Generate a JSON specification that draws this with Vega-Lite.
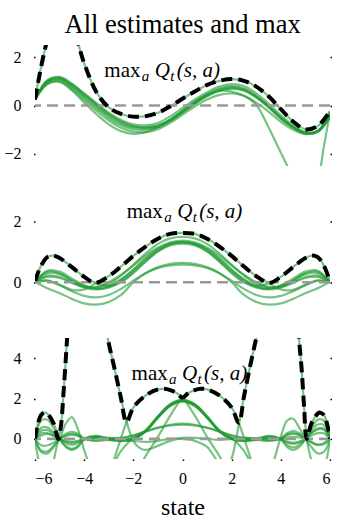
{
"$schema": "https://vega.github.io/schema/vega-lite/v6.json",
"padding": {"left": 1, "top": 12, "right": 5, "bottom": 5},
"title": {"text": "All estimates and max", "font": "Liberation Serif, serif", "fontSize": 26.5, "fontWeight": "normal", "color": "black", "anchor": "middle", "offset": 6.5, "dx": 16},
"spacing": 25.5,
"datasets": {
"p1": [
{"s":-6,"g1":0.25,"g2":0.25,"g3":0.25,"g4":0.25,"g5":0.25,"g6":0.25,"g7":0.25,"g8":0.25},
{"s":-5.75,"g1":1.6},
{"s":-5.5,"g1":2.7,"g2":0.88,"g3":1.05,"g4":0.98,"g5":0.95,"g6":1.02,"g7":0.9,"g8":1.0},
{"s":-5,"g1":4.2,"g2":0.97,"g3":1.18,"g4":1.1,"g5":1.05,"g6":1.15,"g7":1.0,"g8":1.12},
{"s":-4.5,"g1":3.6,"g2":0.62,"g3":0.9,"g4":0.8,"g5":0.74,"g6":0.88,"g7":0.68,"g8":0.83},
{"s":-4.25,"g1":2.6},
{"s":-4,"g1":1.75,"g2":0.12,"g3":0.5,"g4":0.38,"g5":0.3,"g6":0.48,"g7":0.22,"g8":0.42},
{"s":-3.5,"g1":0.55,"g2":-0.36,"g3":0.1,"g4":-0.05,"g5":-0.12,"g6":0.06,"g7":-0.22,"g8":0.02},
{"s":-3,"g1":-0.08,"g2":-0.78,"g3":-0.3,"g4":-0.45,"g5":-0.52,"g6":-0.35,"g7":-0.62,"g8":-0.38},
{"s":-2.5,"g1":-0.35,"g2":-1.06,"g3":-0.6,"g4":-0.75,"g5":-0.82,"g6":-0.66,"g7":-0.92,"g8":-0.68},
{"s":-2,"g1":-0.46,"g2":-1.17,"g3":-0.78,"g4":-0.92,"g5":-0.98,"g6":-0.85,"g7":-1.08,"g8":-0.86},
{"s":-1.5,"g1":-0.44,"g2":-1.1,"g3":-0.82,"g4":-0.95,"g5":-1.0,"g6":-0.9,"g7":-1.1,"g8":-0.9},
{"s":-1,"g1":-0.3,"g2":-0.9,"g3":-0.72,"g4":-0.88,"g5":-0.9,"g6":-0.82,"g7":-0.98,"g8":-0.83},
{"s":-0.5,"g1":-0.04,"g2":-0.58,"g3":-0.45,"g4":-0.63,"g5":-0.64,"g6":-0.58,"g7":-0.72,"g8":-0.6},
{"s":0,"g1":0.28,"g2":-0.2,"g3":-0.1,"g4":-0.28,"g5":-0.28,"g6":-0.22,"g7":-0.38,"g8":-0.26},
{"s":0.5,"g1":0.58,"g2":0.17,"g3":0.25,"g4":0.08,"g5":0.07,"g6":0.14,"g7":-0.04,"g8":0.1},
{"s":1,"g1":0.85,"g2":0.45,"g3":0.55,"g4":0.4,"g5":0.38,"g6":0.47,"g7":0.25,"g8":0.43},
{"s":1.5,"g1":1.02,"g2":0.6,"g3":0.78,"g4":0.63,"g5":0.6,"g6":0.7,"g7":0.44,"g8":0.66},
{"s":2,"g1":1.09,"g2":0.58,"g3":0.88,"g4":0.72,"g5":0.7,"g6":0.8,"g7":0.5,"g8":0.76},
{"s":2.5,"g1":1.02,"g2":0.4,"g3":0.8,"g4":0.62,"g5":0.62,"g6":0.7,"g7":0.4,"g8":0.67},
{"s":3,"g1":0.78,"g2":0.02,"g3":0.5,"g4":0.33,"g5":0.35,"g6":0.4,"g7":0.12,"g8":0.38},
{"s":3.5,"g1":0.38,"g2":-0.9,"g3":0.08,"g4":-0.08,"g5":-0.05,"g6":-0.02,"g7":-0.25,"g8":-0.03},
{"s":4,"g1":-0.15,"g2":-1.95,"g3":-0.4,"g4":-0.55,"g5":-0.52,"g6":-0.5,"g7":-0.68,"g8":-0.5},
{"s":4.5,"g1":-0.66,"g2":-2.9,"g3":-0.82,"g4":-0.92,"g5":-0.9,"g6":-0.88,"g7":-1.0,"g8":-0.88},
{"s":5,"g1":-0.98,"g2":-3.4,"g3":-1.1,"g4":-1.16,"g5":-1.15,"g6":-1.13,"g7":-1.18,"g8":-1.12},
{"s":5.5,"g1":-0.85,"g2":-2.9,"g3":-1.05,"g4":-1.08,"g5":-1.1,"g6":-1.05,"g7":-1.08,"g8":-1.06},
{"s":5.75,"g2":-1.7},
{"s":6,"g1":-0.23,"g2":-0.25,"g3":-0.3,"g4":-0.38,"g5":-0.45,"g6":-0.35,"g7":-0.5,"g8":-0.4}
],
"p2": [
{"s":-6,"u1":0.05,"u2":0,"u3":0,"u4":0,"b1":0,"b2":0,"b3":0,"l1":0.02,"l2":0,"mx":0.05},
{"s":-5.75,"u1":0.55,"mx":0.55},
{"s":-5.5,"u1":0.83,"u2":0.06,"u3":0.18,"u4":0.35,"b1":0.3,"b2":0.38,"b3":0.22,"l1":-0.2,"l2":0.05,"mx":0.83},
{"s":-5.25,"u1":0.88,"mx":0.88},
{"s":-5,"u1":0.8,"u2":-0.08,"u3":0.14,"u4":0.3,"b1":0.27,"b2":0.35,"b3":0.18,"l1":-0.36,"l2":-0.1,"mx":0.8},
{"s":-4.5,"u1":0.5,"u2":-0.25,"u3":-0.02,"u4":0.05,"b1":0.07,"b2":0.12,"b3":0,"l1":-0.55,"l2":-0.3,"mx":0.5},
{"s":-4,"u1":0.18,"u2":-0.24,"u3":-0.18,"u4":-0.15,"b1":-0.12,"b2":-0.1,"b3":-0.15,"l1":-0.7,"l2":-0.45,"mx":0.18},
{"s":-3.55,"mx":-0.02},
{"s":-3.5,"u1":-0.03,"u2":-0.02,"u3":-0.24,"u4":-0.18,"b1":-0.2,"b2":-0.22,"b3":-0.15,"l1":-0.74,"l2":-0.5},
{"s":-3,"u1":-0.12,"u2":0.2,"u3":-0.15,"u4":-0.05,"b1":-0.12,"b2":-0.18,"b3":0,"l1":-0.65,"l2":-0.42,"mx":0.2},
{"s":-2.5,"u1":0,"u2":0.52,"u3":0.08,"u4":0.22,"b1":0.1,"b2":0.02,"b3":0.25,"l1":-0.42,"l2":-0.22,"mx":0.52},
{"s":-2,"u1":0.3,"u2":0.87,"u3":0.4,"u4":0.58,"b1":0.42,"b2":0.33,"b3":0.55,"l1":0,"l2":0.05,"mx":0.87},
{"s":-1.5,"u1":0.68,"u2":1.18,"u3":0.76,"u4":0.95,"b1":0.8,"b2":0.7,"b3":0.88,"l1":0.3,"l2":0.3,"mx":1.18},
{"s":-1,"u1":1.02,"u2":1.44,"u3":1.08,"u4":1.27,"b1":1.1,"b2":1.02,"b3":1.15,"l1":0.5,"l2":0.47,"mx":1.44},
{"s":-0.5,"u1":1.25,"u2":1.6,"u3":1.27,"u4":1.45,"b1":1.28,"b2":1.22,"b3":1.32,"l1":0.61,"l2":0.56,"mx":1.6},
{"s":0,"u1":1.32,"u2":1.63,"u3":1.32,"u4":1.5,"b1":1.34,"b2":1.28,"b3":1.38,"l1":0.64,"l2":0.58,"mx":1.63},
{"s":0.5,"u1":1.27,"u2":1.6,"u3":1.25,"u4":1.45,"b1":1.28,"b2":1.22,"b3":1.32,"l1":0.61,"l2":0.56,"mx":1.6},
{"s":1,"u1":1.08,"u2":1.44,"u3":1.02,"u4":1.27,"b1":1.1,"b2":1.02,"b3":1.15,"l1":0.5,"l2":0.47,"mx":1.44},
{"s":1.5,"u1":0.76,"u2":1.18,"u3":0.68,"u4":0.95,"b1":0.8,"b2":0.7,"b3":0.88,"l1":0.3,"l2":0.3,"mx":1.18},
{"s":2,"u1":0.4,"u2":0.87,"u3":0.3,"u4":0.58,"b1":0.42,"b2":0.33,"b3":0.55,"l1":0,"l2":0.05,"mx":0.87},
{"s":2.5,"u1":0.08,"u2":0.52,"u3":0,"u4":0.22,"b1":0.1,"b2":0.02,"b3":0.25,"l1":-0.42,"l2":-0.22,"mx":0.52},
{"s":3,"u1":-0.15,"u2":0.2,"u3":-0.12,"u4":-0.05,"b1":-0.12,"b2":-0.18,"b3":0,"l1":-0.65,"l2":-0.42,"mx":0.2},
{"s":3.5,"u1":-0.24,"u2":-0.02,"u3":-0.03,"u4":-0.18,"b1":-0.2,"b2":-0.22,"b3":-0.15,"l1":-0.74,"l2":-0.5},
{"s":3.55,"mx":-0.02},
{"s":4,"u1":-0.18,"u2":-0.24,"u3":0.18,"u4":-0.15,"b1":-0.12,"b2":-0.1,"b3":-0.15,"l1":-0.7,"l2":-0.45,"mx":0.18},
{"s":4.5,"u1":-0.02,"u2":-0.25,"u3":0.5,"u4":0.05,"b1":0.07,"b2":0.12,"b3":0,"l1":-0.55,"l2":-0.3,"mx":0.5},
{"s":5,"u1":0.14,"u2":-0.08,"u3":0.8,"u4":0.3,"b1":0.27,"b2":0.35,"b3":0.18,"l1":-0.36,"l2":-0.1,"mx":0.8},
{"s":5.25,"u3":0.88,"mx":0.88},
{"s":5.5,"u1":0.18,"u2":0.06,"u3":0.83,"u4":0.35,"b1":0.3,"b2":0.38,"b3":0.22,"l1":-0.2,"l2":0.05,"mx":0.83},
{"s":5.75,"u3":0.55,"mx":0.55},
{"s":6,"u1":0,"u2":0,"u3":0.03,"u4":0,"b1":0,"b2":0,"b3":0,"l1":0.02,"l2":0,"mx":0.03}
],
"p3": [
{"a":"c1","s":-6,"q":0},{"a":"c1","s":-5.9,"q":-0.8},{"a":"c1","s":-5.75,"q":-1.5},{"a":"c1","s":-5.5,"q":-1.8},{"a":"c1","s":-5.25,"q":-1.1},{"a":"c1","s":-5.15,"q":-0.55},{"a":"c1","s":-5.05,"q":0},{"a":"c1","s":-4.95,"q":0.6},{"a":"c1","s":-4.9,"q":1.2},{"a":"c1","s":-4.85,"q":2.1},{"a":"c1","s":-4.75,"q":3.9},{"a":"c1","s":-4.65,"q":5.8},{"a":"c1","s":-4.5,"q":7.9},{"a":"c1","s":-4.25,"q":9.6},{"a":"c1","s":-4,"q":10},{"a":"c1","s":-3.75,"q":9.5},{"a":"c1","s":-3.5,"q":8.0},{"a":"c1","s":-3.25,"q":6.4},{"a":"c1","s":-3,"q":4.75},{"a":"c1","s":-2.75,"q":3.4},{"a":"c1","s":-2.5,"q":2.0},{"a":"c1","s":-2.25,"q":0.75},{"a":"c1","s":-2,"q":-0.1},{"a":"c1","s":-1.75,"q":-0.45},{"a":"c1","s":-1.5,"q":-0.55},{"a":"c1","s":-1,"q":-0.35},{"a":"c1","s":-0.5,"q":-0.1},{"a":"c1","s":0,"q":0.05},{"a":"c1","s":0.5,"q":0.05},{"a":"c1","s":1,"q":0},{"a":"c1","s":1.5,"q":-0.05},{"a":"c1","s":2,"q":0},{"a":"c1","s":2.5,"q":0.05},{"a":"c1","s":3,"q":0},{"a":"c1","s":3.5,"q":-0.05},{"a":"c1","s":4,"q":0},{"a":"c1","s":4.5,"q":0.1},{"a":"c1","s":5,"q":0},{"a":"c1","s":5.5,"q":-0.3},{"a":"c1","s":6,"q":0},
{"a":"c2","s":-6,"q":0},{"a":"c2","s":-5.5,"q":0.25},{"a":"c2","s":-5,"q":0},{"a":"c2","s":-4.5,"q":-0.15},{"a":"c2","s":-4,"q":0},{"a":"c2","s":-3.5,"q":0.1},{"a":"c2","s":-3,"q":0.05},{"a":"c2","s":-2.5,"q":-0.05},{"a":"c2","s":-2,"q":-0.1},{"a":"c2","s":-1.5,"q":-0.15},{"a":"c2","s":-1,"q":-0.1},{"a":"c2","s":-0.5,"q":0},{"a":"c2","s":0,"q":0},{"a":"c2","s":0.5,"q":-0.1},{"a":"c2","s":1,"q":-0.4},{"a":"c2","s":1.25,"q":-0.8},{"a":"c2","s":1.5,"q":-1.25},{"a":"c2","s":1.75,"q":-1.4},{"a":"c2","s":2,"q":-0.95},{"a":"c2","s":2.15,"q":-0.2},{"a":"c2","s":2.25,"q":0.45},{"a":"c2","s":2.35,"q":1.05},{"a":"c2","s":2.5,"q":2.1},{"a":"c2","s":2.75,"q":3.6},{"a":"c2","s":3,"q":5.0},{"a":"c2","s":3.25,"q":6.4},{"a":"c2","s":3.5,"q":7.8},{"a":"c2","s":3.75,"q":9.0},{"a":"c2","s":4,"q":9.8},{"a":"c2","s":4.25,"q":9.6},{"a":"c2","s":4.5,"q":8.4},{"a":"c2","s":4.65,"q":6.4},{"a":"c2","s":4.75,"q":4.8},{"a":"c2","s":4.85,"q":3.4},{"a":"c2","s":4.95,"q":1.5},{"a":"c2","s":5.05,"q":0},{"a":"c2","s":5.15,"q":-0.6},{"a":"c2","s":5.25,"q":-1.1},{"a":"c2","s":5.5,"q":-1.8},{"a":"c2","s":5.75,"q":-1.5},{"a":"c2","s":5.9,"q":-0.8},{"a":"c2","s":6,"q":0},
{"a":"c3","s":-6,"q":0},{"a":"c3","s":-5.9,"q":0.65},{"a":"c3","s":-5.75,"q":1.18},{"a":"c3","s":-5.6,"q":1.3},{"a":"c3","s":-5.5,"q":1.25},{"a":"c3","s":-5.25,"q":0.78},{"a":"c3","s":-5,"q":0},{"a":"c3","s":-4.75,"q":-0.4},{"a":"c3","s":-4.5,"q":-0.55},{"a":"c3","s":-4.25,"q":-0.4},{"a":"c3","s":-4,"q":-0.05},{"a":"c3","s":-3.5,"q":0.12},{"a":"c3","s":-3,"q":0.02},{"a":"c3","s":-2.5,"q":-0.1},{"a":"c3","s":-2,"q":0},{"a":"c3","s":-1.5,"q":0.38},{"a":"c3","s":-1,"q":1.05},{"a":"c3","s":-0.5,"q":1.65},{"a":"c3","s":0,"q":1.88},{"a":"c3","s":0.5,"q":1.65},{"a":"c3","s":1,"q":1.05},{"a":"c3","s":1.5,"q":0.38},{"a":"c3","s":2,"q":0},{"a":"c3","s":2.5,"q":-0.1},{"a":"c3","s":3,"q":0.02},{"a":"c3","s":3.5,"q":0.12},{"a":"c3","s":4,"q":-0.05},{"a":"c3","s":4.25,"q":-0.4},{"a":"c3","s":4.5,"q":-0.55},{"a":"c3","s":4.75,"q":-0.4},{"a":"c3","s":5,"q":0},{"a":"c3","s":5.25,"q":0.78},{"a":"c3","s":5.5,"q":1.25},{"a":"c3","s":5.6,"q":1.3},{"a":"c3","s":5.75,"q":1.18},{"a":"c3","s":5.9,"q":0.65},{"a":"c3","s":6,"q":0},
{"a":"c4","s":-6,"q":0},{"a":"c4","s":-5.75,"q":-0.65},{"a":"c4","s":-5.5,"q":-0.72},{"a":"c4","s":-5.25,"q":-0.42},{"a":"c4","s":-5,"q":0},{"a":"c4","s":-4.75,"q":0.75},{"a":"c4","s":-4.5,"q":1.08},{"a":"c4","s":-4.25,"q":0.45},{"a":"c4","s":-4,"q":-0.55},{"a":"c4","s":-3.75,"q":-1.4},{"a":"c4","s":-3.5,"q":-1.9},{"a":"c4","s":-3,"q":-1.6},{"a":"c4","s":-2.5,"q":-0.6},{"a":"c4","s":-2,"q":0.05},{"a":"c4","s":-1.5,"q":0.4},{"a":"c4","s":-1,"q":1.08},{"a":"c4","s":-0.5,"q":1.68},{"a":"c4","s":0,"q":1.9},{"a":"c4","s":0.5,"q":1.68},{"a":"c4","s":1,"q":1.08},{"a":"c4","s":1.5,"q":0.4},{"a":"c4","s":2,"q":0.05},{"a":"c4","s":2.5,"q":-0.6},{"a":"c4","s":3,"q":-1.6},{"a":"c4","s":3.5,"q":-1.9},{"a":"c4","s":3.75,"q":-0.95},{"a":"c4","s":4,"q":0.1},{"a":"c4","s":4.25,"q":0.9},{"a":"c4","s":4.5,"q":1.0},{"a":"c4","s":4.75,"q":0.55},{"a":"c4","s":5,"q":0},{"a":"c4","s":5.25,"q":-0.42},{"a":"c4","s":5.5,"q":-0.72},{"a":"c4","s":5.75,"q":-0.65},{"a":"c4","s":6,"q":0},
{"a":"hl","s":-3.5,"q":-3.2},{"a":"hl","s":-3.25,"q":-2.6},{"a":"hl","s":-3,"q":-1.8},{"a":"hl","s":-2.75,"q":-0.9},{"a":"hl","s":-2.5,"q":0.05},{"a":"hl","s":-2.25,"q":0.92},{"a":"hl","s":-2,"q":1.55},{"a":"hl","s":-1.5,"q":2.15},{"a":"hl","s":-1,"q":2.45},{"a":"hl","s":-0.75,"q":2.48},{"a":"hl","s":-0.5,"q":2.42},{"a":"hl","s":-0.25,"q":2.28},{"a":"hl","s":0,"q":2.05},{"a":"hl","s":0.5,"q":1.15},{"a":"hl","s":1,"q":0.1},{"a":"hl","s":1.5,"q":-0.85},{"a":"hl","s":1.75,"q":-1.4},{"a":"hl","s":2,"q":-1.9},
{"a":"hr","s":-2,"q":-1.9},{"a":"hr","s":-1.75,"q":-1.4},{"a":"hr","s":-1.5,"q":-0.85},{"a":"hr","s":-1,"q":0.1},{"a":"hr","s":-0.5,"q":1.15},{"a":"hr","s":0,"q":2.05},{"a":"hr","s":0.25,"q":2.28},{"a":"hr","s":0.5,"q":2.42},{"a":"hr","s":0.75,"q":2.48},{"a":"hr","s":1,"q":2.45},{"a":"hr","s":1.5,"q":2.15},{"a":"hr","s":2,"q":1.55},{"a":"hr","s":2.25,"q":0.92},{"a":"hr","s":2.5,"q":0.05},{"a":"hr","s":2.75,"q":-0.9},{"a":"hr","s":3,"q":-1.8},{"a":"hr","s":3.25,"q":-2.6},{"a":"hr","s":3.5,"q":-3.2},
{"a":"b1","s":-6,"q":0},{"a":"b1","s":-5.75,"q":0.54},{"a":"b1","s":-5.5,"q":0.57},{"a":"b1","s":-5.25,"q":0.33},{"a":"b1","s":-5,"q":0},{"a":"b1","s":-4.75,"q":-0.21},{"a":"b1","s":-4.5,"q":-0.3},{"a":"b1","s":-4.25,"q":-0.21},{"a":"b1","s":-4,"q":0},{"a":"b1","s":-3.5,"q":0.1},{"a":"b1","s":-3,"q":-0.03},{"a":"b1","s":-2.5,"q":-0.08},{"a":"b1","s":-2,"q":0},{"a":"b1","s":-1.5,"q":0.4},{"a":"b1","s":-1,"q":1.1},{"a":"b1","s":-0.5,"q":1.7},{"a":"b1","s":0,"q":1.92},{"a":"b1","s":0.5,"q":1.7},{"a":"b1","s":1,"q":1.1},{"a":"b1","s":1.5,"q":0.4},{"a":"b1","s":2,"q":0},{"a":"b1","s":2.5,"q":-0.08},{"a":"b1","s":3,"q":-0.03},{"a":"b1","s":3.5,"q":0.08},{"a":"b1","s":4,"q":0},{"a":"b1","s":4.25,"q":-0.18},{"a":"b1","s":4.5,"q":-0.25},{"a":"b1","s":4.75,"q":-0.18},{"a":"b1","s":5,"q":0},{"a":"b1","s":5.25,"q":0.3},{"a":"b1","s":5.5,"q":0.52},{"a":"b1","s":5.75,"q":0.5},{"a":"b1","s":6,"q":0},
{"a":"b2","s":-6,"q":0},{"a":"b2","s":-5.75,"q":0.9},{"a":"b2","s":-5.5,"q":0.95},{"a":"b2","s":-5.25,"q":0.55},{"a":"b2","s":-5,"q":0},{"a":"b2","s":-4.75,"q":-0.35},{"a":"b2","s":-4.5,"q":-0.5},{"a":"b2","s":-4.25,"q":-0.35},{"a":"b2","s":-4,"q":0},{"a":"b2","s":-3.5,"q":0.15},{"a":"b2","s":-3,"q":-0.05},{"a":"b2","s":-2.5,"q":-0.12},{"a":"b2","s":-2,"q":-0.02},{"a":"b2","s":-1.5,"q":0.36},{"a":"b2","s":-1,"q":1.05},{"a":"b2","s":-0.5,"q":1.63},{"a":"b2","s":0,"q":1.85},{"a":"b2","s":0.5,"q":1.63},{"a":"b2","s":1,"q":1.05},{"a":"b2","s":1.5,"q":0.36},{"a":"b2","s":2,"q":-0.02},{"a":"b2","s":2.5,"q":-0.12},{"a":"b2","s":3,"q":-0.05},{"a":"b2","s":3.5,"q":0.15},{"a":"b2","s":4,"q":0},{"a":"b2","s":4.25,"q":-0.3},{"a":"b2","s":4.5,"q":-0.42},{"a":"b2","s":4.75,"q":-0.3},{"a":"b2","s":5,"q":0},{"a":"b2","s":5.25,"q":0.55},{"a":"b2","s":5.5,"q":0.95},{"a":"b2","s":5.75,"q":0.9},{"a":"b2","s":6,"q":0},
{"a":"b3","s":-6,"q":0},{"a":"b3","s":-5.75,"q":-0.32},{"a":"b3","s":-5.5,"q":-0.33},{"a":"b3","s":-5.25,"q":-0.2},{"a":"b3","s":-5,"q":0},{"a":"b3","s":-4.75,"q":0.14},{"a":"b3","s":-4.5,"q":0.2},{"a":"b3","s":-4.25,"q":0.14},{"a":"b3","s":-4,"q":0},{"a":"b3","s":-3.5,"q":-0.08},{"a":"b3","s":-3,"q":0.02},{"a":"b3","s":-2.5,"q":0.05},{"a":"b3","s":-2,"q":0.02},{"a":"b3","s":-1.5,"q":0.42},{"a":"b3","s":-1,"q":1.12},{"a":"b3","s":-0.5,"q":1.72},{"a":"b3","s":0,"q":1.95},{"a":"b3","s":0.5,"q":1.72},{"a":"b3","s":1,"q":1.12},{"a":"b3","s":1.5,"q":0.42},{"a":"b3","s":2,"q":0.02},{"a":"b3","s":2.5,"q":0.05},{"a":"b3","s":3,"q":0.02},{"a":"b3","s":3.5,"q":-0.08},{"a":"b3","s":4,"q":0},{"a":"b3","s":4.25,"q":0.18},{"a":"b3","s":4.5,"q":0.25},{"a":"b3","s":4.75,"q":0.18},{"a":"b3","s":5,"q":0},{"a":"b3","s":5.25,"q":-0.17},{"a":"b3","s":5.5,"q":-0.29},{"a":"b3","s":5.75,"q":-0.27},{"a":"b3","s":6,"q":0},
{"a":"b4","s":-6,"q":0},{"a":"b4","s":-5.75,"q":0.27},{"a":"b4","s":-5.5,"q":0.29},{"a":"b4","s":-5.25,"q":0.17},{"a":"b4","s":-5,"q":0},{"a":"b4","s":-4.75,"q":0.18},{"a":"b4","s":-4.5,"q":0.25},{"a":"b4","s":-4.25,"q":0.18},{"a":"b4","s":-4,"q":0},{"a":"b4","s":-3.5,"q":0.05},{"a":"b4","s":-3,"q":-0.02},{"a":"b4","s":-2.5,"q":-0.06},{"a":"b4","s":-2,"q":0},{"a":"b4","s":-1.5,"q":0.39},{"a":"b4","s":-1,"q":1.08},{"a":"b4","s":-0.5,"q":1.67},{"a":"b4","s":0,"q":1.88},{"a":"b4","s":0.5,"q":1.67},{"a":"b4","s":1,"q":1.08},{"a":"b4","s":1.5,"q":0.39},{"a":"b4","s":2,"q":0},{"a":"b4","s":2.5,"q":-0.06},{"a":"b4","s":3,"q":-0.02},{"a":"b4","s":3.5,"q":0.05},{"a":"b4","s":4,"q":0},{"a":"b4","s":4.25,"q":0.21},{"a":"b4","s":4.5,"q":0.3},{"a":"b4","s":4.75,"q":0.21},{"a":"b4","s":5,"q":0},{"a":"b4","s":5.25,"q":0.42},{"a":"b4","s":5.5,"q":0.71},{"a":"b4","s":5.75,"q":0.68},{"a":"b4","s":6,"q":0},
{"a":"b5","s":-6,"q":0},{"a":"b5","s":-5.75,"q":-0.58},{"a":"b5","s":-5.5,"q":-0.62},{"a":"b5","s":-5.25,"q":-0.36},{"a":"b5","s":-5,"q":0},{"a":"b5","s":-4.75,"q":0.25},{"a":"b5","s":-4.5,"q":0.35},{"a":"b5","s":-4.25,"q":0.25},{"a":"b5","s":-4,"q":0.02},{"a":"b5","s":-3.5,"q":-0.1},{"a":"b5","s":-3,"q":-0.05},{"a":"b5","s":-2.5,"q":0.02},{"a":"b5","s":-2,"q":0.15},{"a":"b5","s":-1.5,"q":0.35},{"a":"b5","s":-1,"q":0.55},{"a":"b5","s":-0.5,"q":0.7},{"a":"b5","s":0,"q":0.75},{"a":"b5","s":0.5,"q":0.7},{"a":"b5","s":1,"q":0.55},{"a":"b5","s":1.5,"q":0.35},{"a":"b5","s":2,"q":0.15},{"a":"b5","s":2.5,"q":0.02},{"a":"b5","s":3,"q":-0.05},{"a":"b5","s":3.5,"q":-0.1},{"a":"b5","s":4,"q":0.02},{"a":"b5","s":4.25,"q":0.28},{"a":"b5","s":4.5,"q":0.4},{"a":"b5","s":4.75,"q":0.28},{"a":"b5","s":5,"q":0},{"a":"b5","s":5.25,"q":0.28},{"a":"b5","s":5.5,"q":0.47},{"a":"b5","s":5.75,"q":0.45},{"a":"b5","s":6,"q":0},
{"a":"b6","s":-6,"q":0},{"a":"b6","s":-5.75,"q":0.4},{"a":"b6","s":-5.5,"q":0.43},{"a":"b6","s":-5.25,"q":0.25},{"a":"b6","s":-5,"q":0},{"a":"b6","s":-4.75,"q":-0.14},{"a":"b6","s":-4.5,"q":-0.2},{"a":"b6","s":-4.25,"q":-0.14},{"a":"b6","s":-4,"q":0},{"a":"b6","s":-3.5,"q":0.06},{"a":"b6","s":-3,"q":0},{"a":"b6","s":-2.5,"q":0.05},{"a":"b6","s":-2,"q":0.18},{"a":"b6","s":-1.5,"q":0.38},{"a":"b6","s":-1,"q":0.55},{"a":"b6","s":-0.5,"q":0.66},{"a":"b6","s":0,"q":0.7},{"a":"b6","s":0.5,"q":0.66},{"a":"b6","s":1,"q":0.55},{"a":"b6","s":1.5,"q":0.38},{"a":"b6","s":2,"q":0.18},{"a":"b6","s":2.5,"q":0.05},{"a":"b6","s":3,"q":0},{"a":"b6","s":3.5,"q":0.06},{"a":"b6","s":4,"q":0},{"a":"b6","s":4.25,"q":-0.14},{"a":"b6","s":4.5,"q":-0.2},{"a":"b6","s":4.75,"q":-0.14},{"a":"b6","s":5,"q":0},{"a":"b6","s":5.25,"q":0.17},{"a":"b6","s":5.5,"q":0.28},{"a":"b6","s":5.75,"q":0.27},{"a":"b6","s":6,"q":0}
],
"p3m": [
{"s":-6,"q":0},{"s":-5.9,"q":0.65},{"s":-5.75,"q":1.18},{"s":-5.6,"q":1.3},{"s":-5.5,"q":1.25},{"s":-5.25,"q":0.78},{"s":-5.05,"q":0},{"s":-4.95,"q":0.6},{"s":-4.9,"q":1.2},{"s":-4.85,"q":2.1},{"s":-4.75,"q":3.9},{"s":-4.65,"q":5.8},{"s":-4.5,"q":7.9},{"s":-4.25,"q":9.6},{"s":-4,"q":10},{"s":-3.75,"q":9.5},{"s":-3.5,"q":8.0},{"s":-3.25,"q":6.4},{"s":-3,"q":4.75},{"s":-2.75,"q":3.4},{"s":-2.5,"q":2.0},{"s":-2.28,"q":0.82},{"s":-2,"q":1.55},{"s":-1.5,"q":2.15},{"s":-1,"q":2.45},{"s":-0.75,"q":2.48},{"s":-0.5,"q":2.42},{"s":-0.25,"q":2.28},{"s":0,"q":2.05},{"s":0.25,"q":2.28},{"s":0.5,"q":2.42},{"s":0.75,"q":2.48},{"s":1,"q":2.45},{"s":1.5,"q":2.15},{"s":2,"q":1.55},{"s":2.29,"q":0.8},{"s":2.5,"q":2.1},{"s":2.75,"q":3.6},{"s":3,"q":5.0},{"s":3.25,"q":6.4},{"s":3.5,"q":7.8},{"s":3.75,"q":9.0},{"s":4,"q":9.8},{"s":4.25,"q":9.6},{"s":4.5,"q":8.4},{"s":4.65,"q":6.4},{"s":4.75,"q":4.8},{"s":4.85,"q":3.4},{"s":4.95,"q":1.5},{"s":5.05,"q":0},{"s":5.25,"q":0.78},{"s":5.5,"q":1.25},{"s":5.6,"q":1.3},{"s":5.75,"q":1.18},{"s":5.9,"q":0.65},{"s":6,"q":0}
]
},
"vconcat": [
{
"width": 295, "height": 121,
"layer": [
{"data": {"name": "p1"},
 "transform": [{"fold": ["g2","g3","g4","g5","g6","g7","g8","g1"], "as": ["a","q"]}],
 "mark": {"type": "line", "color": "#1e9b30", "opacity": 0.6, "strokeWidth": 2.2, "interpolate": "catmull-rom", "clip": true, "invalid": "filter"},
 "encoding": {
  "x": {"field": "s", "type": "quantitative", "scale": {"domain": [-6, 6], "nice": false, "zero": false}, "axis": null},
  "y": {"field": "q", "type": "quantitative", "scale": {"domain": [-2.5, 2.5], "nice": false, "zero": false}, "axis": {"values": [-2, 0, 2], "title": null, "minExtent": 34}},
  "detail": {"field": "a"}}},
{"data": {"values": [{}]}, "mark": {"type": "rule", "color": "#9a9a9a", "strokeWidth": 2.6, "strokeDash": [11, 6]}, "encoding": {"y": {"datum": 0, "type": "quantitative", "axis": null}}},
{"data": {"values": [{}]}, "mark": {"type": "text", "text": "max", "align": "left", "baseline": "alphabetic", "font": "Liberation Serif, serif", "fontSize": 21, "color": "black"}, "encoding": {"x": {"datum": -3.18, "type": "quantitative", "axis": null}, "y": {"datum": 1.18, "type": "quantitative", "axis": null}}},
{"data": {"values": [{}]}, "mark": {"type": "text", "text": "a", "align": "left", "baseline": "alphabetic", "font": "Liberation Serif, serif", "fontStyle": "italic", "fontSize": 15, "dx": 37.5, "dy": 4, "color": "black"}, "encoding": {"x": {"datum": -3.18, "type": "quantitative", "axis": null}, "y": {"datum": 1.18, "type": "quantitative", "axis": null}}},
{"data": {"values": [{}]}, "mark": {"type": "text", "text": "Q", "align": "left", "baseline": "alphabetic", "font": "Liberation Serif, serif", "fontStyle": "italic", "fontSize": 21, "dx": 50.5, "color": "black"}, "encoding": {"x": {"datum": -3.18, "type": "quantitative", "axis": null}, "y": {"datum": 1.18, "type": "quantitative", "axis": null}}},
{"data": {"values": [{}]}, "mark": {"type": "text", "text": "t", "align": "left", "baseline": "alphabetic", "font": "Liberation Serif, serif", "fontStyle": "italic", "fontSize": 15, "dx": 66, "dy": 4, "color": "black"}, "encoding": {"x": {"datum": -3.18, "type": "quantitative", "axis": null}, "y": {"datum": 1.18, "type": "quantitative", "axis": null}}},
{"data": {"values": [{}]}, "mark": {"type": "text", "text": "(s, a)", "align": "left", "baseline": "alphabetic", "font": "Liberation Serif, serif", "fontStyle": "italic", "fontSize": 21, "dx": 72.5, "color": "black"}, "encoding": {"x": {"datum": -3.18, "type": "quantitative", "axis": null}, "y": {"datum": 1.18, "type": "quantitative", "axis": null}}},
{"data": {"name": "p1"},
 "mark": {"type": "line", "color": "black", "strokeWidth": 4, "strokeDash": [11, 6], "interpolate": "catmull-rom", "clip": true, "invalid": "filter"},
 "encoding": {
  "x": {"field": "s", "type": "quantitative", "scale": {"domain": [-6, 6], "nice": false, "zero": false}, "axis": null},
  "y": {"field": "g1", "type": "quantitative", "scale": {"domain": [-2.5, 2.5], "nice": false, "zero": false}, "axis": {"orient": "right", "labels": false, "values": [-2, 0, 2], "title": null}}}}
],
"resolve": {"axis": {"x": "independent", "y": "independent"}}
},
{
"width": 295, "height": 121,
"layer": [
{"data": {"name": "p2"},
 "transform": [{"fold": ["u1","u3","u4","b1","b2","b3","l1","l2","u2"], "as": ["a","q"]}],
 "mark": {"type": "line", "color": "#1e9b30", "opacity": 0.6, "strokeWidth": 2.2, "interpolate": "catmull-rom", "clip": true, "invalid": "filter"},
 "encoding": {
  "x": {"field": "s", "type": "quantitative", "scale": {"domain": [-6, 6], "nice": false, "zero": false}, "axis": null},
  "y": {"field": "q", "type": "quantitative", "scale": {"domain": [-1, 3], "nice": false, "zero": false}, "axis": {"values": [0, 2], "title": null, "minExtent": 34}},
  "detail": {"field": "a"}}},
{"data": {"values": [{}]}, "mark": {"type": "rule", "color": "#9a9a9a", "strokeWidth": 2.6, "strokeDash": [11, 6]}, "encoding": {"y": {"datum": 0, "type": "quantitative", "axis": null}}},
{"data": {"values": [{}]}, "mark": {"type": "text", "text": "max", "align": "left", "baseline": "alphabetic", "font": "Liberation Serif, serif", "fontSize": 21, "color": "black"}, "encoding": {"x": {"datum": -2.27, "type": "quantitative", "axis": null}, "y": {"datum": 2.13, "type": "quantitative", "axis": null}}},
{"data": {"values": [{}]}, "mark": {"type": "text", "text": "a", "align": "left", "baseline": "alphabetic", "font": "Liberation Serif, serif", "fontStyle": "italic", "fontSize": 15, "dx": 37.5, "dy": 4, "color": "black"}, "encoding": {"x": {"datum": -2.27, "type": "quantitative", "axis": null}, "y": {"datum": 2.13, "type": "quantitative", "axis": null}}},
{"data": {"values": [{}]}, "mark": {"type": "text", "text": "Q", "align": "left", "baseline": "alphabetic", "font": "Liberation Serif, serif", "fontStyle": "italic", "fontSize": 21, "dx": 50.5, "color": "black"}, "encoding": {"x": {"datum": -2.27, "type": "quantitative", "axis": null}, "y": {"datum": 2.13, "type": "quantitative", "axis": null}}},
{"data": {"values": [{}]}, "mark": {"type": "text", "text": "t", "align": "left", "baseline": "alphabetic", "font": "Liberation Serif, serif", "fontStyle": "italic", "fontSize": 15, "dx": 66, "dy": 4, "color": "black"}, "encoding": {"x": {"datum": -2.27, "type": "quantitative", "axis": null}, "y": {"datum": 2.13, "type": "quantitative", "axis": null}}},
{"data": {"values": [{}]}, "mark": {"type": "text", "text": "(s, a)", "align": "left", "baseline": "alphabetic", "font": "Liberation Serif, serif", "fontStyle": "italic", "fontSize": 21, "dx": 72.5, "color": "black"}, "encoding": {"x": {"datum": -2.27, "type": "quantitative", "axis": null}, "y": {"datum": 2.13, "type": "quantitative", "axis": null}}},
{"data": {"name": "p2"},
 "mark": {"type": "line", "color": "black", "strokeWidth": 4, "strokeDash": [11, 6], "interpolate": "catmull-rom", "clip": true, "invalid": "filter"},
 "encoding": {
  "x": {"field": "s", "type": "quantitative", "scale": {"domain": [-6, 6], "nice": false, "zero": false}, "axis": null},
  "y": {"field": "mx", "type": "quantitative", "scale": {"domain": [-1, 3], "nice": false, "zero": false}, "axis": {"orient": "right", "labels": false, "values": [0, 2], "title": null}}}}
],
"resolve": {"axis": {"x": "independent", "y": "independent"}}
},
{
"width": 295, "height": 121,
"layer": [
{"data": {"name": "p3"},
 "mark": {"type": "line", "color": "#1e9b30", "opacity": 0.6, "strokeWidth": 2.2, "interpolate": "catmull-rom", "clip": true, "invalid": "filter"},
 "encoding": {
  "x": {"field": "s", "type": "quantitative", "scale": {"domain": [-6, 6], "nice": false, "zero": false}, "axis": {"values": [-6, -4, -2, 0, 2, 4, 6], "title": "state", "labelPadding": 10, "titleFontSize": 24, "titlePadding": 9}},
  "y": {"field": "q", "type": "quantitative", "scale": {"domain": [-1, 5], "nice": false, "zero": false}, "axis": {"values": [0, 2, 4], "title": null, "minExtent": 34}},
  "detail": {"field": "a"}}},
{"data": {"values": [{}]}, "mark": {"type": "rule", "color": "#9a9a9a", "strokeWidth": 2.6, "strokeDash": [11, 6]}, "encoding": {"y": {"datum": 0, "type": "quantitative", "axis": null}}},
{"data": {"values": [{}]}, "mark": {"type": "text", "text": "max", "align": "left", "baseline": "alphabetic", "font": "Liberation Serif, serif", "fontSize": 21, "color": "black"}, "encoding": {"x": {"datum": -2.07, "type": "quantitative", "axis": null}, "y": {"datum": 2.92, "type": "quantitative", "axis": null}}},
{"data": {"values": [{}]}, "mark": {"type": "text", "text": "a", "align": "left", "baseline": "alphabetic", "font": "Liberation Serif, serif", "fontStyle": "italic", "fontSize": 15, "dx": 37.5, "dy": 4, "color": "black"}, "encoding": {"x": {"datum": -2.07, "type": "quantitative", "axis": null}, "y": {"datum": 2.92, "type": "quantitative", "axis": null}}},
{"data": {"values": [{}]}, "mark": {"type": "text", "text": "Q", "align": "left", "baseline": "alphabetic", "font": "Liberation Serif, serif", "fontStyle": "italic", "fontSize": 21, "dx": 50.5, "color": "black"}, "encoding": {"x": {"datum": -2.07, "type": "quantitative", "axis": null}, "y": {"datum": 2.92, "type": "quantitative", "axis": null}}},
{"data": {"values": [{}]}, "mark": {"type": "text", "text": "t", "align": "left", "baseline": "alphabetic", "font": "Liberation Serif, serif", "fontStyle": "italic", "fontSize": 15, "dx": 66, "dy": 4, "color": "black"}, "encoding": {"x": {"datum": -2.07, "type": "quantitative", "axis": null}, "y": {"datum": 2.92, "type": "quantitative", "axis": null}}},
{"data": {"values": [{}]}, "mark": {"type": "text", "text": "(s, a)", "align": "left", "baseline": "alphabetic", "font": "Liberation Serif, serif", "fontStyle": "italic", "fontSize": 21, "dx": 72.5, "color": "black"}, "encoding": {"x": {"datum": -2.07, "type": "quantitative", "axis": null}, "y": {"datum": 2.92, "type": "quantitative", "axis": null}}},
{"data": {"name": "p3m"},
 "mark": {"type": "line", "color": "black", "strokeWidth": 4, "strokeDash": [11, 6], "interpolate": "catmull-rom", "clip": true, "invalid": "filter"},
 "encoding": {
  "x": {"field": "s", "type": "quantitative", "scale": {"domain": [-6, 6], "nice": false, "zero": false}, "axis": null},
  "y": {"field": "q", "type": "quantitative", "scale": {"domain": [-1, 5], "nice": false, "zero": false}, "axis": {"orient": "right", "labels": false, "values": [0, 2, 4], "title": null}}}}
],
"resolve": {"axis": {"x": "independent", "y": "independent"}}
}
],
"config": {
"view": {"stroke": null},
"axis": {"grid": false, "domain": false, "labelFont": "Liberation Serif, serif", "labelFontSize": 16, "labelColor": "black", "tickColor": "black", "tickSize": 1.5, "tickWidth": 1.5, "labelPadding": 12.5, "titleFont": "Liberation Serif, serif", "titleFontSize": 22, "titleFontWeight": "normal", "titleColor": "black"}
}
}
